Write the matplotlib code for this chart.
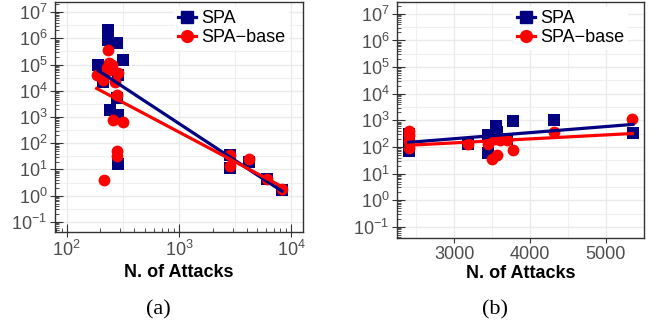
import numpy as np
import matplotlib
matplotlib.use("Agg")
import matplotlib.pyplot as plt
from matplotlib import ticker
from matplotlib.lines import Line2D

plt.rcParams['font.family'] = ['Liberation Sans', 'DejaVu Sans']

# ---------- DATA ----------
# (a) log-log panel
a_spa_x = [191, 235, 235, 279, 320, 212, 289, 279, 243, 289, 289,
           2860, 2860, 4170, 6030, 8240]
a_spa_y = [9.7e4, 2.1e6, 8.7e5, 6.5e5, 1.5e5, 2.2e4, 4.0e4, 5200, 1870, 1200, 16,
           36, 11, 20, 4.2, 1.65]
a_base_x = [185, 212, 235, 251, 227, 289, 279, 260, 320, 282, 282, 216,
            240, 270, 245,
            2860, 2860, 4170, 6030, 8240]
a_base_y = [4.0e4, 2.6e4, 3.6e5, 9.8e4, 7.3e4, 4.7e4, 6900, 780, 630, 51, 34, 4,
            1.2e5, 2.2e4, 6.0e4,
            36, 13.6, 24.5, 4.5, 1.8]

# (b) linear x, log y panel
b_spa_x = [2400, 2400, 2400, 3188, 3443, 3452, 3553, 3561, 3693, 3781, 4320, 5359]
b_spa_y = [300, 150, 70, 126, 275, 61, 620, 365, 205, 910, 1000, 345]
b_base_x = [2400, 2400, 2400, 2400, 3188, 3452, 3496, 3539, 3561, 3605, 3693,
            3772, 4320, 5351]
b_base_y = [400, 280, 166, 88, 130, 126, 36, 205, 51, 178, 178, 76, 365, 1090]

series_names = ["SPA", "SPA\u2212base"]
NAVY = "#000080"
RED = "#FF0000"
GRID = "#EBEBEB"
FRAME = "#333333"
TICKLBL = "#4D4D4D"

# ---------- FIGURE ----------
fig = plt.figure(figsize=(6.6, 3.29), dpi=100)
ax_a = fig.add_axes([0.0833, 0.2948, 0.3757, 0.6992])
ax_b = fig.add_axes([0.6015, 0.2766, 0.3742, 0.7174])


def fit_line(x, y, logx):
    x = np.asarray(x, float)
    ly = np.log10(y)
    xx = np.log10(x) if logx else x
    k, b = np.polyfit(xx, ly, 1)
    grid = np.linspace(xx.min(), xx.max(), 100)
    gx = 10 ** grid if logx else grid
    return gx, 10 ** (k * grid + b)


def style(ax, logx):
    ax.set_yscale("log")
    if logx:
        ax.set_xscale("log")
    ax.set_axisbelow(True)
    ax.yaxis.set_major_locator(ticker.LogLocator(base=10, numticks=20))
    ax.yaxis.set_minor_locator(ticker.LogLocator(base=10, subs=[10 ** 0.5], numticks=20))
    ax.yaxis.set_minor_formatter(ticker.NullFormatter())
    if logx:
        ax.xaxis.set_major_locator(ticker.LogLocator(base=10, numticks=20))
        ax.xaxis.set_minor_locator(ticker.LogLocator(base=10, subs=[10 ** 0.5], numticks=20))
        ax.xaxis.set_minor_formatter(ticker.NullFormatter())
    ax.grid(which="major", color=GRID, lw=1.0)
    ax.grid(which="minor", color="#F0F0F0", lw=0.8)
    ax.tick_params(which="major", direction="out", length=3.5, width=0.8,
                   color=FRAME, labelsize=13, labelcolor=TICKLBL, pad=2)
    ax.tick_params(which="minor", length=0)
    for s in ax.spines.values():
        s.set_color(FRAME)
        s.set_linewidth(1.0)


def logticks(ax, which):
    # annotation_logticks-like inner ticks
    if which == "y":
        t = ax.twinx()
        t.set_yscale("log")
        t.set_ylim(ax.get_ylim())
        t.yaxis.tick_left()
        t.yaxis.set_major_locator(ticker.LogLocator(base=10, numticks=20))
        t.yaxis.set_minor_locator(ticker.LogLocator(base=10, subs=range(2, 10), numticks=20))
        t.yaxis.set_major_formatter(ticker.NullFormatter())
        t.yaxis.set_minor_formatter(ticker.NullFormatter())
    else:
        t = ax.twiny()
        t.set_xscale("log")
        t.set_xlim(ax.get_xlim())
        t.xaxis.tick_bottom()
        t.xaxis.set_major_locator(ticker.LogLocator(base=10, numticks=20))
        t.xaxis.set_minor_locator(ticker.LogLocator(base=10, subs=range(2, 10), numticks=20))
        t.xaxis.set_major_formatter(ticker.NullFormatter())
        t.xaxis.set_minor_formatter(ticker.NullFormatter())
    t.tick_params(axis=which, which="major", direction="in", length=6, width=0.8, color=FRAME)
    t.tick_params(axis=which, which="minor", direction="in", length=3, width=0.6, color=FRAME)
    other = "x" if which == "y" else "y"
    t.tick_params(axis=other, which="both", length=0, labelsize=0)
    for s in t.spines.values():
        s.set_visible(False)


def draw(ax, sx, sy, bx, by, logx):
    ax.scatter(sx, sy, marker="s", s=64, color=NAVY, linewidths=0, zorder=3)
    ax.scatter(bx, by, marker="o", s=72, color=RED, linewidths=0, zorder=4)
    fx, fy = fit_line(sx, sy, logx)
    ax.plot(fx, fy, color=NAVY, lw=2.3, zorder=5)
    fx, fy = fit_line(bx, by, logx)
    ax.plot(fx, fy, color=RED, lw=2.3, zorder=6)


def add_legend(ax, x0):
    handles = [Line2D([], [], color=NAVY, marker="s", ms=8, lw=2.3),
               Line2D([], [], color=RED, marker="o", ms=8.5, lw=2.3)]
    leg = ax.legend(handles, series_names, loc="upper left", bbox_to_anchor=(x0, 0.98),
                    frameon=True, fancybox=False, facecolor="white", edgecolor="none",
                    framealpha=1, fontsize=13, handlelength=1.0, handletextpad=0.3,
                    labelspacing=0.1, borderpad=0.2, borderaxespad=0)
    leg.set_zorder(10)


# ---------- (a) ----------
style(ax_a, True)
draw(ax_a, a_spa_x, a_spa_y, a_base_x, a_base_y, True)
ax_a.set_xlim(78.7, 12700)
ax_a.set_ylim(0.041, 2.45e7)
logticks(ax_a, "y")
logticks(ax_a, "x")
ax_a.set_xlabel("N. of Attacks", fontsize=13, fontweight="bold", labelpad=3)
add_legend(ax_a, 0.48)

# ---------- (b) ----------
style(ax_b, False)
draw(ax_b, b_spa_x, b_spa_y, b_base_x, b_base_y, False)
ax_b.set_xlim(2246, 5504)
ax_b.set_ylim(0.038, 2.8e7)
ax_b.xaxis.set_major_locator(ticker.MultipleLocator(1000))
ax_b.xaxis.set_minor_locator(ticker.MultipleLocator(500))
ax_b.xaxis.set_major_formatter(ticker.FormatStrFormatter("%d"))
logticks(ax_b, "y")
ax_b.set_xlabel("N. of Attacks", fontsize=13, fontweight="bold", labelpad=2)
add_legend(ax_b, 0.47)

fig.text(158 / 660, 1 - 310 / 329, "(a)", family="Liberation Serif", fontsize=16,
         ha="center", va="center")
fig.text(495 / 660, 1 - 310 / 329, "(b)", family="Liberation Serif", fontsize=16,
         ha="center", va="center")

fig.savefig("out.png", dpi=100)
